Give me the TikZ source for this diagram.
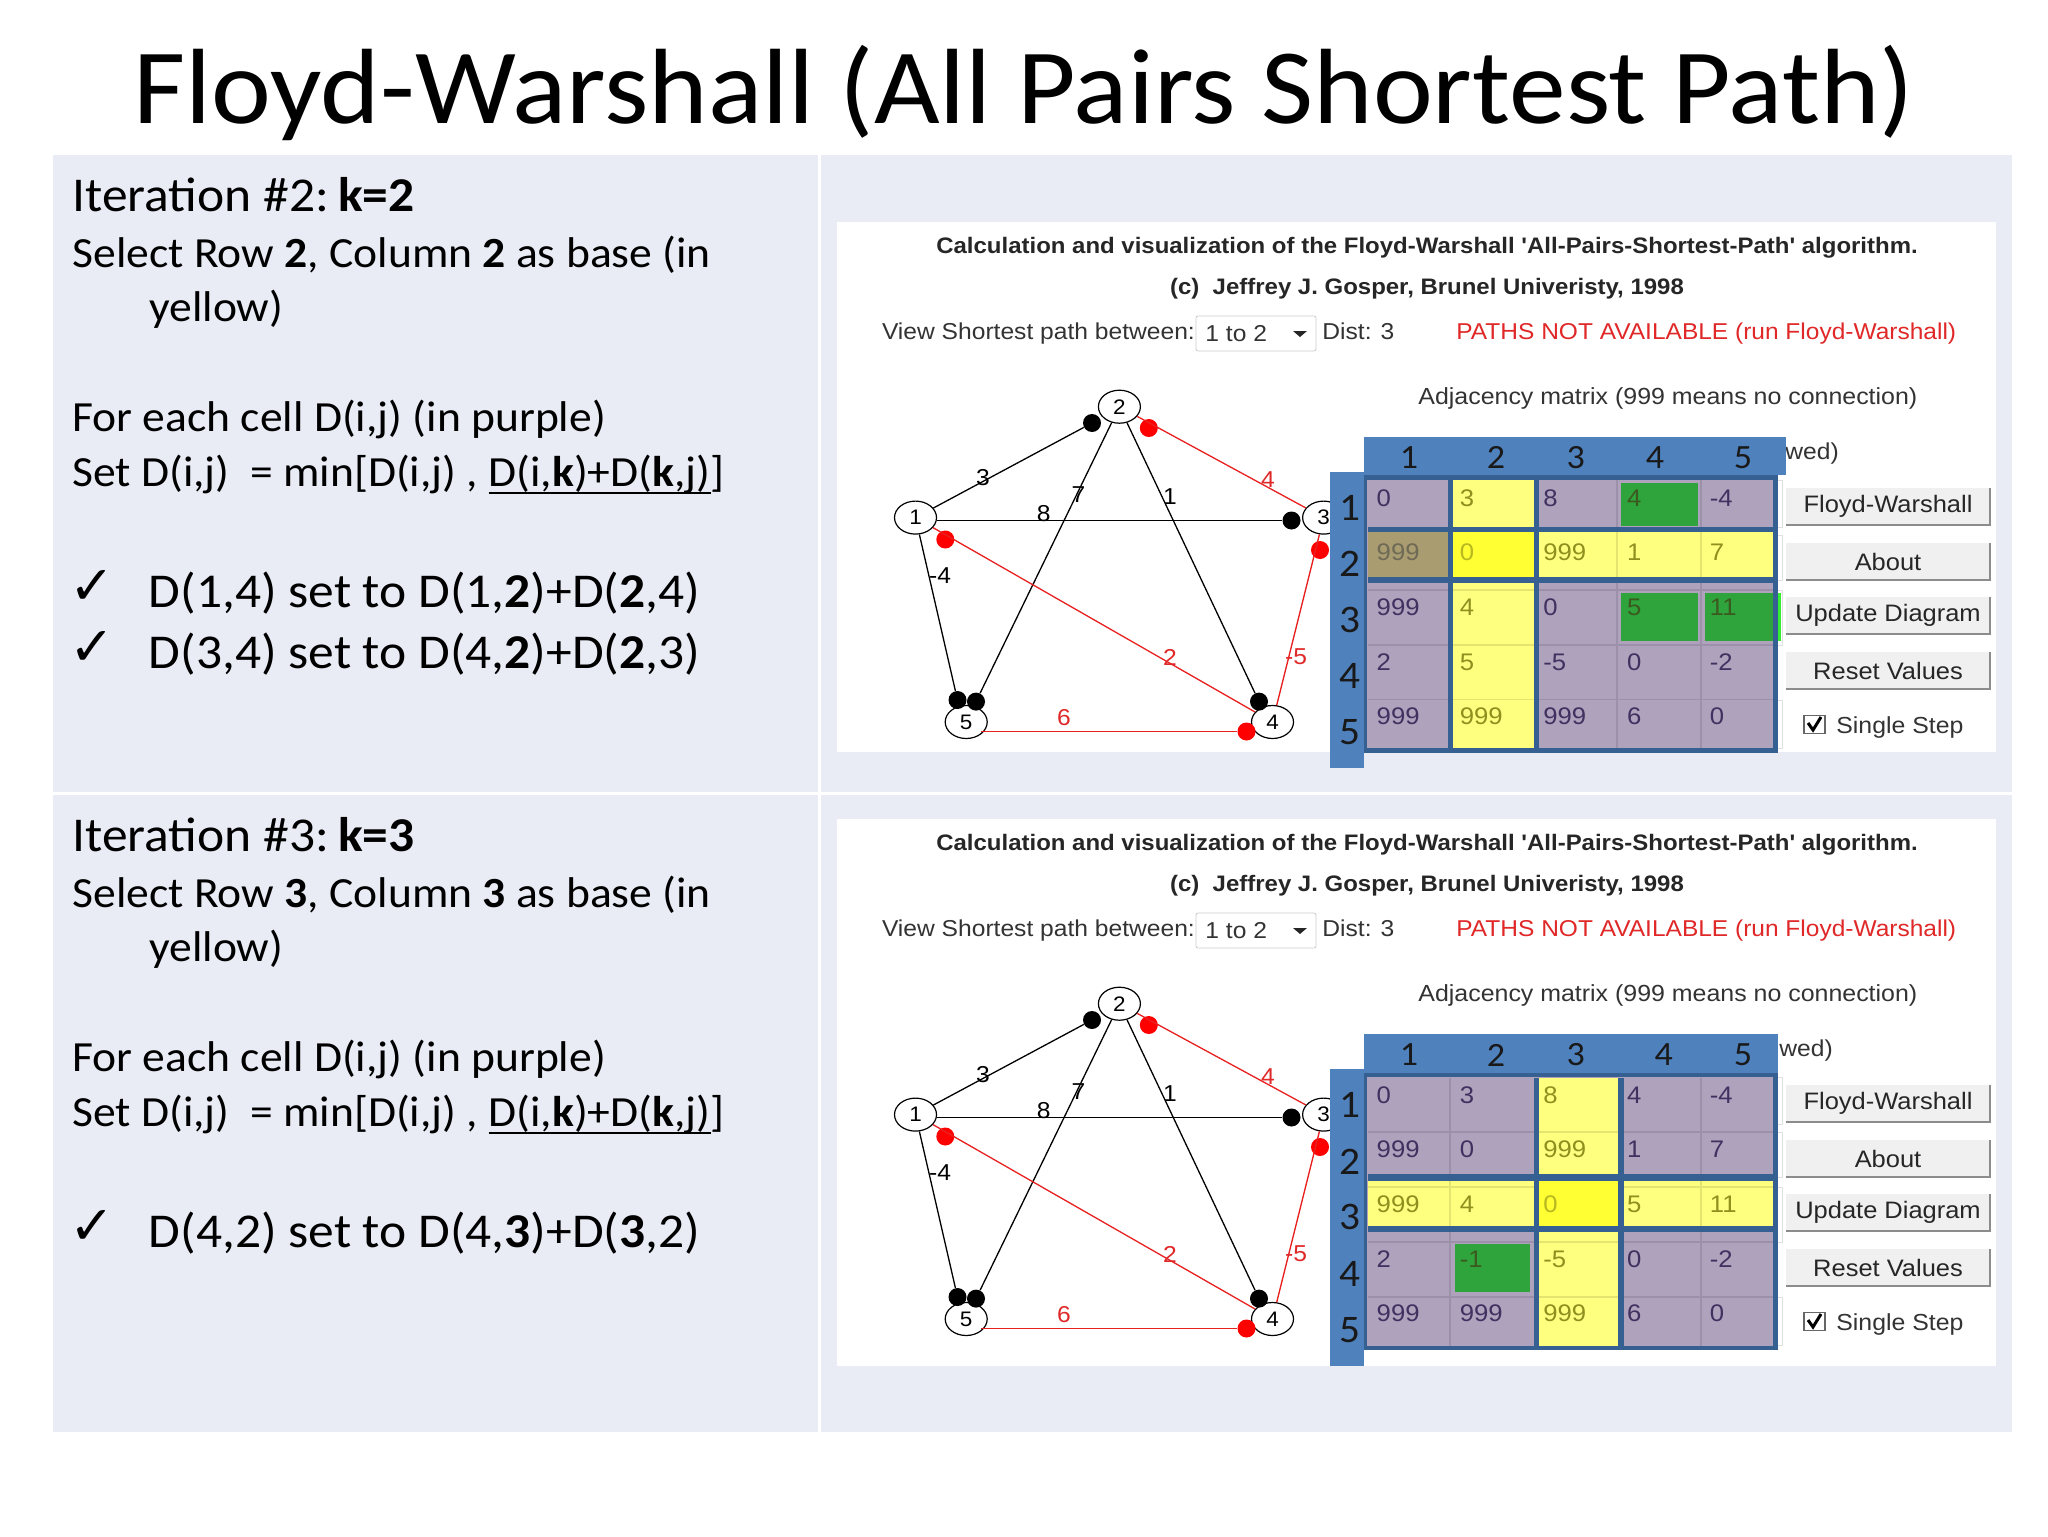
\documentclass[tikz,border=0pt]{standalone}
\usepackage{fontspec}
\setmainfont[FakeStretch=1.06]{Carlito}
\newfontfamily\arial[FakeStretch=1.07]{Liberation Sans}
\newfontfamily\dejavu{DejaVu Sans}
\usetikzlibrary{shapes.geometric}
\definecolor{panel}{HTML}{E9EBF5}
\definecolor{band}{HTML}{4F81BD}
\definecolor{frameblue}{HTML}{376092}
\definecolor{cellpurple}{HTML}{AFA2BD}
\definecolor{celledge}{HTML}{9C90AA}
\definecolor{softyellow}{HTML}{FFFF7F}
\definecolor{softedge}{HTML}{E4E470}
\definecolor{hotyellow}{HTML}{FFFF33}
\definecolor{cellgreen}{HTML}{2FA33C}
\definecolor{brightgreen}{HTML}{33EE33}
\definecolor{khaki}{HTML}{A89C70}
\definecolor{pt}{HTML}{3F3260}
\definecolor{yt}{HTML}{8F8F20}
\definecolor{gt}{HTML}{3B5A20}
\definecolor{kt}{HTML}{6F6A55}
\definecolor{ht}{HTML}{B8B820}
\definecolor{redline}{HTML}{E82020}
\definecolor{redtext}{HTML}{E02828}
\newcommand\ulbar[1]{\setbox0\hbox{#1}\rlap{\rule[-3.9pt]{\wd0}{1.1pt}}\box0}
\tikzset{
  x=0.5pt,y=-0.5pt,
  txt/.style={anchor=base west,inner sep=0pt,font=\fontsize{21.5}{21.5}\selectfont},
  bigtxt/.style={anchor=base west,inner sep=0pt,font=\fontsize{24.3}{24.3}\selectfont},
  ticktxt/.style={anchor=center,inner sep=0pt,font=\dejavu\fontsize{27}{27}\selectfont},
  gui/.style={anchor=base west,inner sep=0pt,text=black!80,font=\arial\fontsize{11.5}{11.5}\selectfont},
  guibold/.style={anchor=base,inner sep=0pt,text=black!85,font=\arial\bfseries\fontsize{11.2}{11.2}\selectfont},
  vertex/.style={ellipse,draw=black,fill=white,line width=0.6pt,minimum width=21pt,minimum height=16.5pt,inner sep=0pt,font=\arial\fontsize{10.5}{10.5}\selectfont},
  bdot/.style={circle,fill=black,inner sep=0pt,minimum size=9pt},
  rdot/.style={circle,fill=red,inner sep=0pt,minimum size=9pt},
  bedge/.style={draw=black,line width=0.65pt},
  redge/.style={draw=redline,line width=0.65pt},
  wlab/.style={inner sep=0pt,font=\arial\fontsize{11.5}{11.5}\selectfont},
  rlab/.style={wlab,text=redtext},
  btn/.style={fill=black!6,inner sep=0pt,minimum width=102pt,minimum height=18.5pt,text=black!85,font=\arial\fontsize{11.9}{11.9}\selectfont},
  btnedge/.style={draw=black!45,line width=1pt},
  hd/.style={inner sep=0pt,text=black!90,font=\fontsize{17}{17}\selectfont},
  sd/.style={inner sep=0pt,text=black!90,font=\fontsize{19.5}{19.5}\selectfont},
  ct/.style={anchor=west,inner sep=0pt,font=\arial\fontsize{12}{12}\selectfont},
}
% matrix row: prefix, row index, y, cells as text/colour
\newcommand\mrow[4]{%
  \foreach \t/\k [count=\c] in {#4}{%
    \pgfmathsetmacro\xx{{1376.3,1459.5,1543,1626.8,1709.5}[\c-1]}%
    \node[ct,text=\k] (#1c#2\c) at (\xx,#3) {\t};
  }%
}
% left-hand text common to both panels
\newcommand\lefttext[5]{%
  \begin{scope}[shift={(0,#2)}]
    \node[bigtxt] (#1a) at (72,211.4) {Iteration \##3:\hspace{0.19em}\textbf{k=#3}};
    \node[txt] (#1b) at (72,267) {Select Row \textbf{#3}, Column \textbf{#3} as base (in};
    \node[txt] (#1c) at (149,321) {yellow)};
    \node[txt] (#1d) at (72,431.4) {For each cell D(i,j) (in purple)};
    \node[txt] (#1e) at (72,486) {Set D(i,j)\ \ = min[D(i,j) , \ulbar{D(i,\textbf{k})+D(\textbf{k},j)}]};
    \node[ticktxt] (#1t) at (92,587) {✓};
    \node[bigtxt] (#1f) at (148.5,607) {#4};
    #5
  \end{scope}%
}
% the application screenshot common to both panels
\newcommand\gui[2]{%
  \begin{scope}[shift={(0,#2)}]
    \node[guibold] (#1tA) at (1427,253) {Calculation and visualization of the Floyd-Warshall 'All-Pairs-Shortest-Path' algorithm.};
    \node[guibold] (#1tB) at (1427,294) {(c)\ \ Jeffrey J. Gosper, Brunel Univeristy, 1998};
    \node[gui] (#1tC) at (881.6,339) {View Shortest path between:};
    \node[draw=black!20,fill=white,rounded corners=1pt,minimum width=60pt,minimum height=17.5pt,inner sep=0pt] (#1combo) at (1256,333.5) {};
    \node[gui] (#1comboT) at (1205,341) {1 to 2};
    \fill[black!85] (1293,331) -- (1307,331) -- (1300,337) -- cycle;
    \node[gui] (#1tD) at (1322,339) {Dist: 3};
    \node[gui,font=\arial\fontsize{11.45}{11.45}\selectfont,text=redtext] (#1tE) at (1456,339) {PATHS NOT AVAILABLE (run Floyd-Warshall)};
    \node[gui,font=\arial\fontsize{11.65}{11.65}\selectfont] (#1tF) at (1418,404) {Adjacency matrix (999 means no connection)};
    % graph
    \node[vertex] (#1n1) at (915.5,517.6) {1};
    \node[vertex] (#1n2) at (1119.4,406.7) {2};
    \node[vertex] (#1n3) at (1323.6,517.6) {3};
    \node[vertex] (#1n4) at (1272.5,722) {4};
    \node[vertex] (#1n5) at (966.2,722) {5};
    \node[bdot] (#1d12) at (1092,423) {};
    \node[bdot] (#1d13) at (1291.5,520.5) {};
    \node[bdot] (#1d15) at (957.5,700) {};
    \node[bdot] (#1d25) at (976,701.6) {};
    \node[bdot] (#1d24) at (1259,701.6) {};
    \node[rdot] (#1d32) at (1148.8,428) {};
    \node[rdot] (#1d41) at (945.3,539.5) {};
    \node[rdot] (#1d43) at (1320,550) {};
    \node[rdot] (#1d54) at (1246.5,731.5) {};
    \draw[bedge] (#1n1) -- (#1d12);
    \draw[bedge] (#1n1.east |- #1d13) -- (#1d13);
    \draw[bedge] (#1n1) -- (#1d15);
    \draw[bedge] (#1n2) -- (#1d25);
    \draw[bedge] (#1n2) -- (#1d24);
    \draw[redge] (#1n2) -- (#1n3);
    \draw[redge] (#1n1) -- (#1n4);
    \draw[redge] (#1n4) -- (#1n3);
    \draw[redge,line width=0.8pt] (#1n5.south east |- #1d54) -- (#1d54);
    \node[wlab] (#1l3) at (983,478) {3};
    \node[wlab] (#1l7) at (1078.5,495) {7};
    \node[wlab] (#1l1) at (1170,496.5) {1};
    \node[wlab] (#1l8) at (1043.6,513.6) {8};
    \node[wlab] (#1l4) at (940,575.5) {-4};
    \node[rlab] (#1l4r) at (1268,480) {4};
    \node[rlab] (#1l2) at (1170,657) {2};
    \node[rlab] (#1l5) at (1296,657) {-5};
    \node[rlab] (#1l6) at (1064,718) {6};
    % faint outlines behind the matrix
    \foreach \ya/\yb in {480/527,535/580,590/645,700/748}{
      \draw[black!12,line width=0.5pt] (1776,\ya) -- (1782,\ya) -- (1782,\yb) -- (1776,\yb);
    }
    % buttons
    \node[btn] (#1b1) at (1888,506.5) {Floyd-Warshall};
    \node[btn] (#1b2) at (1888,561.5) {About};
    \node[btn] (#1b3) at (1888,615.5) {Update Diagram};
    \node[btn] (#1b4) at (1888,670.5) {Reset Values};
    \foreach \b in {1,2,3,4}{
      \draw[btnedge] (#1b\b.south west) -- (#1b\b.south east) -- (#1b\b.north east);
    }
    \node[draw=black!60,fill=white,line width=0.9pt,minimum width=10.5pt,minimum height=9pt,inner sep=0pt] (#1cb) at (1814.5,724.5) {};
    \draw[black,line width=1.5pt] (1808,723) -- (1813,730) -- (1821,717);
    \node[gui,font=\arial\fontsize{11.6}{11.6}\selectfont] (#1tG) at (1836,733) {Single Step};
  \end{scope}%
}
\begin{document}
\begin{tikzpicture}
\useasboundingbox (0,0) rectangle (2048,1536);
\fill[white] (0,0) rectangle (2048,1536);
\node[anchor=base,inner sep=0pt,font=\fontsize{53.5}{53.5}\selectfont] (title) at (1024,124) {Floyd-Warshall (All Pairs Shortest Path)};
% panels
\fill[panel] (53,155) rectangle (818,792);
\fill[panel] (821,155) rectangle (2012,792);
\fill[panel] (53,795) rectangle (818,1432);
\fill[panel] (821,795) rectangle (2012,1432);
\fill[white] (837,222) rectangle (1996,752);
\fill[white] (837,819) rectangle (1996,1366);
% left text
\lefttext{A}{0}{2}{D(1,4) set to D(1,\textbf{2})+D(\textbf{2},4)}{%
  \node[ticktxt] (Ax) at (92,648) {✓};
  \node[bigtxt] (Ag) at (148.5,668) {D(3,4) set to D(4,\textbf{2})+D(\textbf{2},3)};
}
\lefttext{B}{640}{3}{D(4,2) set to D(4,\textbf{3})+D(\textbf{3},2)}{}
% screenshots
\gui{A}{0}
\gui{B}{597}
% first matrix
\fill[cellpurple] (1363,475) rectangle (1777.7,752.7);
\draw[celledge,line width=0.8pt] (1367.5,590) -- (1773.3,590) (1367.5,645) -- (1773.3,645) (1367.5,699.3) -- (1773.3,699.3);
\draw[celledge,line width=0.8pt] (1617,480) -- (1617,748.3) (1700.7,480) -- (1700.7,748.3);
\fill[softyellow] (1453.4,480) rectangle (1533.5,748.3);
\fill[softyellow] (1367.5,531.7) rectangle (1773.3,577.3);
\fill[khaki] (1367.5,531.7) rectangle (1448,577.3);
\fill[hotyellow] (1453.4,531.7) rectangle (1533.5,577.3);
\draw[softedge,line width=0.8pt] (1453.4,590) -- (1533.5,590) (1453.4,645) -- (1533.5,645) (1453.4,699.3) -- (1533.5,699.3);
\draw[softedge,line width=0.8pt] (1617,531.7) -- (1617,577.3) (1700.7,531.7) -- (1700.7,577.3);
\fill[cellgreen] (1621,483.3) rectangle (1697.6,526);
\fill[cellgreen] (1621,592.7) rectangle (1697.6,640.7);
\fill[brightgreen] (1773,592.7) rectangle (1781.3,640.7);
\fill[cellgreen] (1705,592.7) rectangle (1773.3,640.7);
\fill[frameblue] (1448,480) rectangle (1453.4,748.3);
\fill[frameblue] (1533.5,480) rectangle (1538.8,748.3);
\fill[frameblue] (1367.5,526.7) rectangle (1773.3,531.7);
\fill[frameblue] (1367.5,577.3) rectangle (1773.3,582.7);
\draw[frameblue,line width=2.2pt] (1365.2,477.5) rectangle (1775.5,750.5);
\mrow{A}{1}{498.3}{0/pt,3/yt,8/pt,4/gt,-4/pt}
\mrow{A}{2}{552.7}{999/kt,0/ht,999/yt,1/yt,7/yt}
\mrow{A}{3}{607.3}{999/pt,4/yt,0/pt,5/gt,11/gt}
\mrow{A}{4}{662.3}{2/pt,5/yt,-5/pt,0/pt,-2/pt}
\mrow{A}{5}{716.7}{999/pt,999/yt,999/pt,6/pt,0/pt}
\node[gui,anchor=base west] (Awed) at (1785,459) {wed)};
\fill[band] (1364,436.7) rectangle (1785.7,475);
\fill[band] (1329.7,471.7) rectangle (1364,767.7);
\node[hd] (Ah1) at (1409,457.7) {1};
\node[hd] (Ah2) at (1496,457.7) {2};
\node[hd] (Ah3) at (1575.7,457.7) {3};
\node[hd] (Ah4) at (1655,457.7) {4};
\node[hd] (Ah5) at (1743,457.7) {5};
\node[sd] (As1) at (1350,507.7) {1};
\node[sd] (As2) at (1350,564) {2};
\node[sd] (As3) at (1350,620) {3};
\node[sd] (As4) at (1350,676) {4};
\node[sd] (As5) at (1350,732) {5};
% second matrix
\fill[cellpurple] (1363,1072.7) rectangle (1777.7,1350);
\draw[celledge,line width=0.8pt] (1367.5,1131.7) -- (1773.3,1131.7) (1367.5,1185.7) -- (1773.3,1185.7) (1367.5,1241.7) -- (1773.3,1241.7) (1367.5,1296.7) -- (1773.3,1296.7);
\draw[celledge,line width=0.8pt] (1449.8,1078) -- (1449.8,1345.7) (1700.7,1078) -- (1700.7,1345.7);
\fill[softyellow] (1538.8,1078) rectangle (1618.4,1345.7);
\fill[softyellow] (1367.5,1180.7) rectangle (1773.3,1226);
\fill[hotyellow] (1538.8,1180.7) rectangle (1618.4,1226);
\draw[softedge,line width=0.8pt] (1538.8,1131.7) -- (1618.4,1131.7) (1538.8,1241.7) -- (1618.4,1241.7) (1538.8,1296.7) -- (1618.4,1296.7);
\draw[softedge,line width=0.8pt] (1367.5,1187) -- (1538,1187) (1624,1187) -- (1773.3,1187) (1449.8,1180.7) -- (1449.8,1226) (1700.7,1180.7) -- (1700.7,1226);
\fill[cellgreen] (1454.7,1244) rectangle (1530,1292);
\fill[frameblue] (1533.5,1078) rectangle (1538.8,1345.7);
\fill[frameblue] (1618.4,1078) rectangle (1624,1345.7);
\fill[frameblue] (1367.5,1174.3) rectangle (1773.3,1180.7);
\fill[frameblue] (1367.5,1226) rectangle (1773.3,1231.7);
\draw[frameblue,line width=2.2pt] (1365.2,1075) rectangle (1775.5,1348);
\mrow{B}{1}{1095}{0/pt,3/pt,8/yt,4/pt,-4/pt}
\mrow{B}{2}{1149.3}{999/pt,0/pt,999/yt,1/pt,7/pt}
\mrow{B}{3}{1204.3}{999/yt,4/yt,0/ht,5/yt,11/yt}
\mrow{B}{4}{1259.3}{2/pt,-1/gt,-5/yt,0/pt,-2/pt}
\mrow{B}{5}{1313.3}{999/pt,999/pt,999/yt,6/pt,0/pt}
\node[gui,anchor=base west] (Bwed) at (1779,1056) {wed)};
\fill[band] (1364,1034) rectangle (1777.7,1073);
\fill[band] (1329.7,1069) rectangle (1364,1365.7);
\node[hd] (Bh1) at (1409,1055) {1};
\node[hd] (Bh2) at (1496,1055) {2};
\node[hd] (Bh3) at (1575.7,1055) {3};
\node[hd] (Bh4) at (1663.7,1055) {4};
\node[hd] (Bh5) at (1743,1055) {5};
\node[sd] (Bs1) at (1350,1105) {1};
\node[sd] (Bs2) at (1350,1161.7) {2};
\node[sd] (Bs3) at (1350,1217) {3};
\node[sd] (Bs4) at (1350,1274) {4};
\node[sd] (Bs5) at (1350,1330) {5};
\end{tikzpicture}
\end{document}
